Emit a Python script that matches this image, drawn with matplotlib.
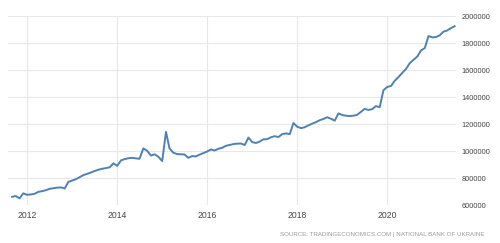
import pandas as pd
import matplotlib
matplotlib.use('Agg')
from matplotlib import pyplot as plt
import matplotlib.dates as mdates

# Ukraine money supply, monthly, Sep 2011 - Jul 2021 (UAH million)
start = '2011-09-01'
values = [661, 667, 650, 687, 676, 679, 683, 698, 703, 710, 720, 725,
          729, 731, 723, 772, 782, 792, 806, 822, 831, 841, 852, 862,
          869, 874, 880, 909, 891, 931, 940, 947, 950, 946, 943, 1020,
          1002, 967, 976, 958, 926, 1143, 1020, 988, 978, 976, 975, 950,
          963, 960, 974, 985, 997, 1012, 1004, 1017, 1024, 1039, 1045, 1052,
          1055, 1056, 1045, 1100, 1066, 1060, 1070, 1087, 1088, 1102, 1110, 1104,
          1125, 1131, 1125, 1208, 1180, 1170, 1176, 1190, 1203, 1214, 1228, 1238,
          1250, 1240, 1225, 1279, 1267, 1262, 1259, 1262, 1268, 1290, 1312, 1305,
          1310, 1333, 1325, 1450, 1475, 1482, 1520, 1548, 1578, 1608, 1650, 1676,
          1700, 1745, 1763, 1852, 1842, 1845, 1857, 1884, 1893, 1910, 1925]
y_ticks = [600000, 800000, 1000000, 1200000, 1400000, 1600000, 1800000, 2000000]
source = 'SOURCE: TRADINGECONOMICS.COM | NATIONAL BANK OF UKRAINE'

dates = pd.date_range(start, periods=len(values), freq='MS')
money = [v * 1000 for v in values]

plt.rcParams['font.family'] = ['Liberation Sans Narrow', 'Liberation Sans', 'DejaVu Sans']

fig = plt.figure(figsize=(5, 2.43), dpi=100)
ax = fig.add_axes([0.016, 0.156, 0.896, 0.778])

ax.plot(dates, money, color='#4f81b3', linewidth=1.4, solid_joinstyle='round')

ax.set_xlim(pd.Timestamp('2011-07-30'), pd.Timestamp('2021-07-12'))
ax.set_ylim(600000, 2000000)
ax.set_yticks(y_ticks)
ax.set_yticklabels([str(t) for t in y_ticks])
ax.xaxis.set_major_locator(mdates.YearLocator(2))
ax.xaxis.set_major_formatter(mdates.DateFormatter('%Y'))
ax.yaxis.tick_right()

ax.grid(True, color='#e8e8e8', linewidth=0.8)
ax.set_axisbelow(True)
for s in ax.spines.values():
    s.set_visible(False)
ax.tick_params(axis='both', length=0, colors='#444444')
ax.tick_params(axis='y', labelsize=5.3, pad=4)
ax.tick_params(axis='x', labelsize=6.2, pad=4)

fig.text(0.97, 0.033, source, ha='right', va='center', fontsize=4.4,
         color='#9a9a9a')

fig.savefig('out.png', dpi=100)
